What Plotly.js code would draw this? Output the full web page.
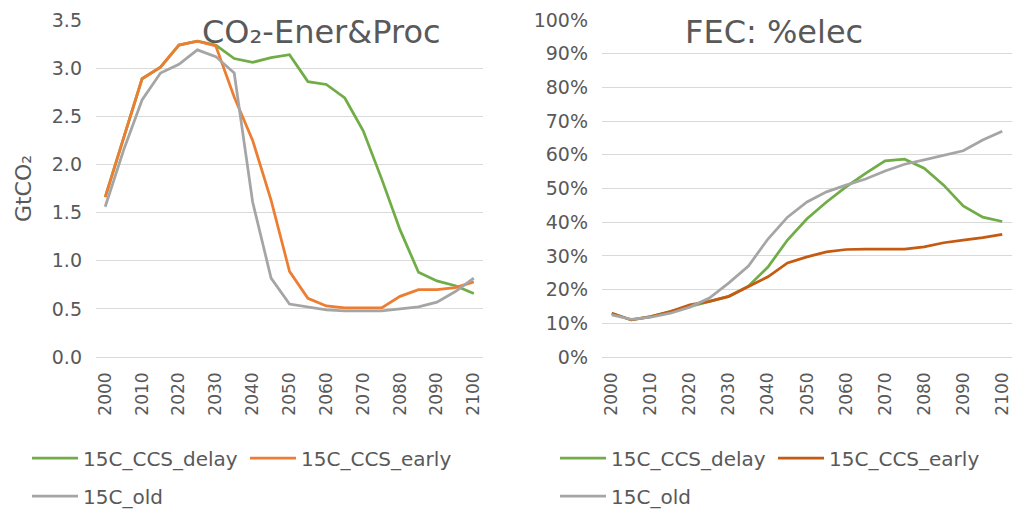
<!DOCTYPE html>
<html>
<head>
<meta charset="utf-8">
<script src="https://cdn.plot.ly/plotly-3.0.1.min.js"></script>
<style>
html,body{margin:0;padding:0;background:#fff;}
#chart{width:1013px;height:511px;}
</style>
</head>
<body>
<div id="chart"></div>
<script>
// ---- data ----
const years = [2000,2005,2010,2015,2020,2025,2030,2035,2040,2045,2050,2055,2060,2065,2070,2075,2080,2085,2090,2095,2100];
const seriesNames = ['15C_CCS_delay','15C_CCS_early','15C_old'];

// CO2-Ener&Proc (GtCO2)
const co2Delay = [1.66,2.28,2.89,3.01,3.24,3.28,3.24,3.10,3.06,3.11,3.14,2.86,2.83,2.69,2.35,1.85,1.32,0.88,0.79,0.74,0.66];
const co2Early = [1.66,2.28,2.89,3.01,3.24,3.28,3.23,2.70,2.25,1.63,0.89,0.61,0.53,0.51,0.51,0.51,0.63,0.70,0.70,0.72,0.78];
const co2Old   = [1.56,2.15,2.67,2.95,3.04,3.19,3.12,2.95,1.61,0.82,0.55,0.52,0.49,0.48,0.48,0.48,0.50,0.52,0.57,0.68,0.82];

// FEC: %elec (fraction)
const elecDelay = [0.13,0.11,0.12,0.135,0.15,0.165,0.18,0.21,0.267,0.347,0.41,0.46,0.505,0.545,0.582,0.587,0.56,0.51,0.448,0.415,0.402];
const elecEarly = [0.13,0.11,0.12,0.135,0.155,0.165,0.18,0.208,0.238,0.279,0.297,0.312,0.319,0.32,0.32,0.32,0.327,0.339,0.347,0.354,0.364];
const elecOld   = [0.125,0.112,0.118,0.13,0.148,0.175,0.22,0.27,0.35,0.415,0.46,0.49,0.51,0.528,0.552,0.572,0.585,0.598,0.612,0.644,0.67];

const leftTitle = 'CO\u2082-Ener&Proc';
const rightTitle = 'FEC: %elec';
const leftYTitle = 'GtCO\u2082';

// ---- styling ----
const GREEN = '#70AD47', ORANGE = '#ED7D31', GRAY = '#A5A5A5', DKORANGE = '#C55A11';
const TXT = '#595959', GRID = '#D9D9D9';
const FONT = 'DejaVu Sans';
const LW = 2.75;

function tr(x, y, name, color, xa, ya, lg) {
  return {x: x, y: y, name: name, type: 'scatter', mode: 'lines',
    line: {color: color, width: LW}, xaxis: xa, yaxis: ya, legend: lg, hoverinfo: 'skip'};
}

const data = [
  tr(years, co2Delay, seriesNames[0], GREEN, 'x', 'y', 'legend'),
  tr(years, co2Early, seriesNames[1], ORANGE, 'x', 'y', 'legend'),
  tr(years, co2Old, seriesNames[2], GRAY, 'x', 'y', 'legend2'),
  tr(years, elecDelay, seriesNames[0], GREEN, 'x2', 'y2', 'legend3'),
  tr(years, elecEarly, seriesNames[1], DKORANGE, 'x2', 'y2', 'legend3'),
  tr(years, elecOld, seriesNames[2], GRAY, 'x2', 'y2', 'legend4')
];

const W = 1013, H = 511, ML = 96, MR = 1, MT = 20, MB = 154;
const GW = W - ML - MR, GH = H - MT - MB;
const px = v => (v - ML) / GW;       // pixel x -> paper x
const py = v => (H - MB - v) / GH;   // pixel y -> paper y
const cx = v => v / W;               // pixel x -> container x
const cy = v => 1 - v / H;           // pixel y -> container y

const xCommon = {
  range: [1997.5, 2102.5], tick0: 2000, dtick: 10, tickangle: -90,
  showgrid: false, zeroline: false, showline: false, ticks: '',
  tickfont: {family: FONT, size: 17, color: TXT}, ticklabelstandoff: 11, fixedrange: true, automargin: false
};
const yCommon = {
  showgrid: true, gridcolor: GRID, gridwidth: 1, zeroline: true, zerolinecolor: GRID, zerolinewidth: 1,
  showline: false, ticks: '', tickfont: {family: FONT, size: 19, color: TXT}, ticklabelstandoff: 13, fixedrange: true, automargin: false
};
const legCommon = {
  orientation: 'h', xanchor: 'left', yanchor: 'middle', xref: 'container', yref: 'container',
  itemwidth: 46, entrywidth: 157, entrywidthmode: 'pixels',
  font: {family: FONT, size: 20, color: TXT}, bgcolor: 'rgba(0,0,0,0)', itemclick: false, itemdoubleclick: false
};

const layout = {
  width: W, height: H, margin: {l: ML, r: MR, t: MT, b: MB, pad: 0, autoexpand: false},
  paper_bgcolor: '#fff', plot_bgcolor: '#fff', showlegend: true,
  font: {family: FONT, color: TXT},
  xaxis: Object.assign({}, xCommon, {domain: [0, px(483)], anchor: 'y'}),
  yaxis: Object.assign({}, yCommon, {range: [0, 3.5], dtick: 0.5, tickformat: '.1f', anchor: 'x',
    title: {text: leftYTitle, font: {family: FONT, size: 22, color: TXT}, standoff: 14}}),
  xaxis2: Object.assign({}, xCommon, {domain: [px(602), 1], anchor: 'y2'}),
  yaxis2: Object.assign({}, yCommon, {range: [0, 1], dtick: 0.1, tickformat: '.0%', anchor: 'x2'}),
  legend:  Object.assign({}, legCommon, {x: cx(27),  y: cy(458)}),
  legend2: Object.assign({}, legCommon, {x: cx(27),  y: cy(496)}),
  legend3: Object.assign({}, legCommon, {x: cx(555), y: cy(458)}),
  legend4: Object.assign({}, legCommon, {x: cx(555), y: cy(496)}),
  annotations: [
    {text: leftTitle, xref: 'paper', yref: 'paper', x: px(321), y: py(32), xanchor: 'center', yanchor: 'middle',
     showarrow: false, font: {family: FONT, size: 32, color: TXT}},
    {text: rightTitle, xref: 'paper', yref: 'paper', x: px(774), y: py(32), xanchor: 'center', yanchor: 'middle',
     showarrow: false, font: {family: FONT, size: 32, color: TXT}}
  ]
};

Plotly.newPlot('chart', data, layout, {displayModeBar: false, staticPlot: true});
</script>
</body>
</html>
